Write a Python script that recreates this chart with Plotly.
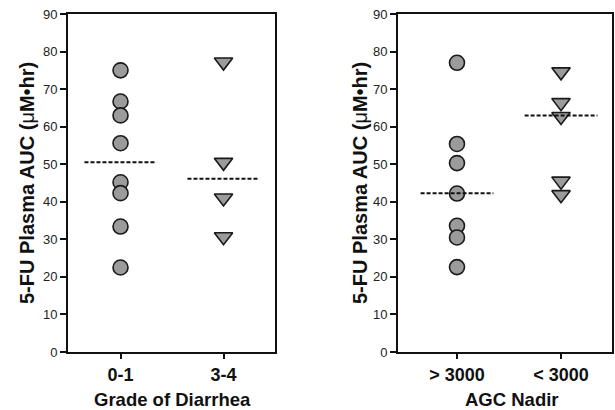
import plotly.graph_objects as go

# ---- data ----
left_categories = ["0-1", "3-4"]
left_circles = [75, 66.7, 63.0, 55.6, 45.2, 42.3, 33.4, 22.5]      # grade 0-1
left_triangles = [77.2, 50.5, 41.0, 30.7]                          # grade 3-4
left_medians = [50.5, 46.1]

right_categories = ["> 3000", "< 3000"]
right_circles = [77.0, 55.4, 50.3, 42.2, 33.6, 30.5, 22.6]         # AGC > 3000
right_triangles = [74.6, 66.4, 62.7, 45.5, 41.9]                   # AGC < 3000
right_medians = [42.3, 63.0]

y_ticks = [0, 10, 20, 30, 40, 50, 60, 70, 80, 90]

FONT = "Liberation Sans, Arial, sans-serif"
FILL = "#9b9b9b"
EDGE = "#1a1a1a"
HALF = 0.35

fig = go.Figure()


def add_panel(xa, ya, circles, triangles, medians):
    fig.add_trace(go.Scatter(
        x=[0] * len(circles), y=circles, mode="markers", xaxis=xa, yaxis=ya,
        marker=dict(symbol="circle", size=15, color=FILL,
                    line=dict(color=EDGE, width=1.6)),
        showlegend=False, hoverinfo="y"))
    fig.add_trace(go.Scatter(
        x=[1] * len(triangles), y=triangles, mode="markers", xaxis=xa, yaxis=ya,
        marker=dict(symbol="triangle-down", size=16, color=FILL,
                    line=dict(color=EDGE, width=1.6)),
        showlegend=False, hoverinfo="y"))
    for i, m in enumerate(medians):
        fig.add_trace(go.Scatter(
            x=[i - HALF, i + HALF], y=[m, m], mode="lines", xaxis=xa, yaxis=ya,
            line=dict(color="#111111", width=2, dash="4px,2px"),
            showlegend=False, hoverinfo="skip"))


add_panel("x", "y", left_circles, left_triangles, left_medians)
add_panel("x2", "y2", right_circles, right_triangles, right_medians)

ydom = [1 - 352 / 410, 1 - 14 / 410]

common_y = dict(range=[0, 90], tickvals=y_ticks, ticks="outside", ticklen=6,
                tickwidth=1.5, tickcolor="#111", showline=True, linecolor="#111",
                linewidth=2, mirror=True, showgrid=False, zeroline=False,
                tickfont=dict(family=FONT, size=13, color="#222"), domain=ydom,
                automargin=False)
common_x = dict(tickvals=[0, 1], ticks="outside", ticklen=5, tickwidth=1.5,
                tickcolor="#111", showline=True, linecolor="#111", linewidth=2,
                mirror=True, showgrid=False, zeroline=False,
                tickfont=dict(family=FONT, size=18, color="#111", weight="bold"),
                automargin=False)

fig.update_layout(
    width=615, height=410,
    margin=dict(l=0, r=0, t=0, b=0),
    paper_bgcolor="white", plot_bgcolor="white",
    xaxis=dict(common_x, range=[-0.51, 1.5], ticktext=left_categories,
               domain=[68 / 615, 275 / 615], anchor="y"),
    yaxis=dict(common_y, anchor="x"),
    xaxis2=dict(common_x, range=[-0.567, 1.49], ticktext=right_categories,
                domain=[398 / 615, 612 / 615], anchor="y2"),
    yaxis2=dict(common_y, anchor="x2"),
)

ytitle = "<b>5-FU Plasma AUC (</b>μ<b>M•hr)</b>"
ann = []
for xp in [27 / 615, 360 / 615]:
    ann.append(dict(text=ytitle, x=xp, y=1 - 183 / 410, xref="paper", yref="paper",
                    textangle=-90, showarrow=False, xanchor="center", yanchor="middle",
                    font=dict(family=FONT, size=20, color="#111")))
for xp, t in [(172 / 615, "Grade of Diarrhea"), (512 / 615, "AGC Nadir")]:
    ann.append(dict(text="<b>%s</b>" % t, x=xp, y=1 - 399 / 410, xref="paper",
                    yref="paper", showarrow=False, xanchor="center", yanchor="middle",
                    font=dict(family=FONT, size=18.5, color="#111")))
fig.update_layout(annotations=ann)

fig.write_html("out.html")
